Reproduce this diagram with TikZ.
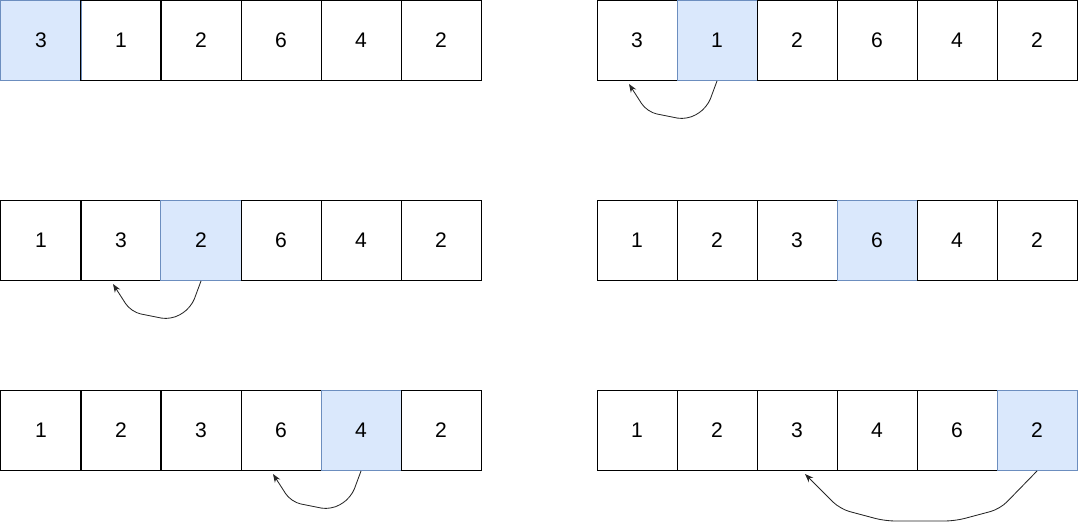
\documentclass[tikz,border=0pt]{standalone}
\usepackage{fontspec}
\setmainfont{Liberation Sans}
\usetikzlibrary{arrows.meta}
\definecolor{hlfill}{HTML}{DAE8FC}
\definecolor{hldraw}{HTML}{6C8EBF}
\tikzset{
  cell/.style={draw=black, line width=0.7pt, minimum size=2cm, inner sep=0pt, font=\fontsize{15}{17}\selectfont},
  hl/.style={cell, fill=hlfill, draw=hldraw},
  swap/.style={draw=black!85, line width=0.6pt, rounded corners=7pt, -{Stealth[length=6pt,width=4.5pt]}}
}
\begin{document}
\begin{tikzpicture}[x=0.025cm, y=-0.025cm]
\useasboundingbox (0,0) rectangle (1078,530);
% row 1
\foreach \v/\s [count=\i] in {3/hl,1/cell,2/cell,6/cell,4/cell,2/cell}
  \node[\s] (p1-\i) at ({41+80*(\i-1)},40.5) {\v};
\foreach \v/\s [count=\i] in {3/cell,1/hl,2/cell,6/cell,4/cell,2/cell}
  \node[\s] (p2-\i) at ({637+80*(\i-1)},40.5) {\v};
% row 2
\foreach \v/\s [count=\i] in {1/cell,3/cell,2/hl,6/cell,4/cell,2/cell}
  \node[\s] (p3-\i) at ({41+80*(\i-1)},240.5) {\v};
\foreach \v/\s [count=\i] in {1/cell,2/cell,3/cell,6/hl,4/cell,2/cell}
  \node[\s] (p4-\i) at ({637+80*(\i-1)},240.5) {\v};
% row 3
\foreach \v/\s [count=\i] in {1/cell,2/cell,3/cell,6/cell,4/hl,2/cell}
  \node[\s] (p5-\i) at ({41+80*(\i-1)},430.5) {\v};
\foreach \v/\s [count=\i] in {1/cell,2/cell,3/cell,4/cell,6/cell,2/hl}
  \node[\s] (p6-\i) at ({637+80*(\i-1)},430.5) {\v};
% insertions
\draw[swap] (p2-2.south) -- ++(-10,27) -- ++(-20,12) -- ++(-40,-8) -- ([shift={(-8,3)}]p2-1.south);
\draw[swap] (p3-3.south) -- ++(-10,27) -- ++(-20,12) -- ++(-40,-8) -- ([shift={(-8,3)}]p3-2.south);
\draw[swap] (p5-5.south) -- ++(-10,27) -- ++(-20,12) -- ++(-40,-8) -- ([shift={(-8,3)}]p5-4.south);
\draw[swap] (p6-6.south) -- ++(-37,38) -- ++(-45,12) -- ++(-70,0) -- ++(-45,-12) -- ([shift={(8,3)}]p6-3.south);
\end{tikzpicture}
\end{document}
